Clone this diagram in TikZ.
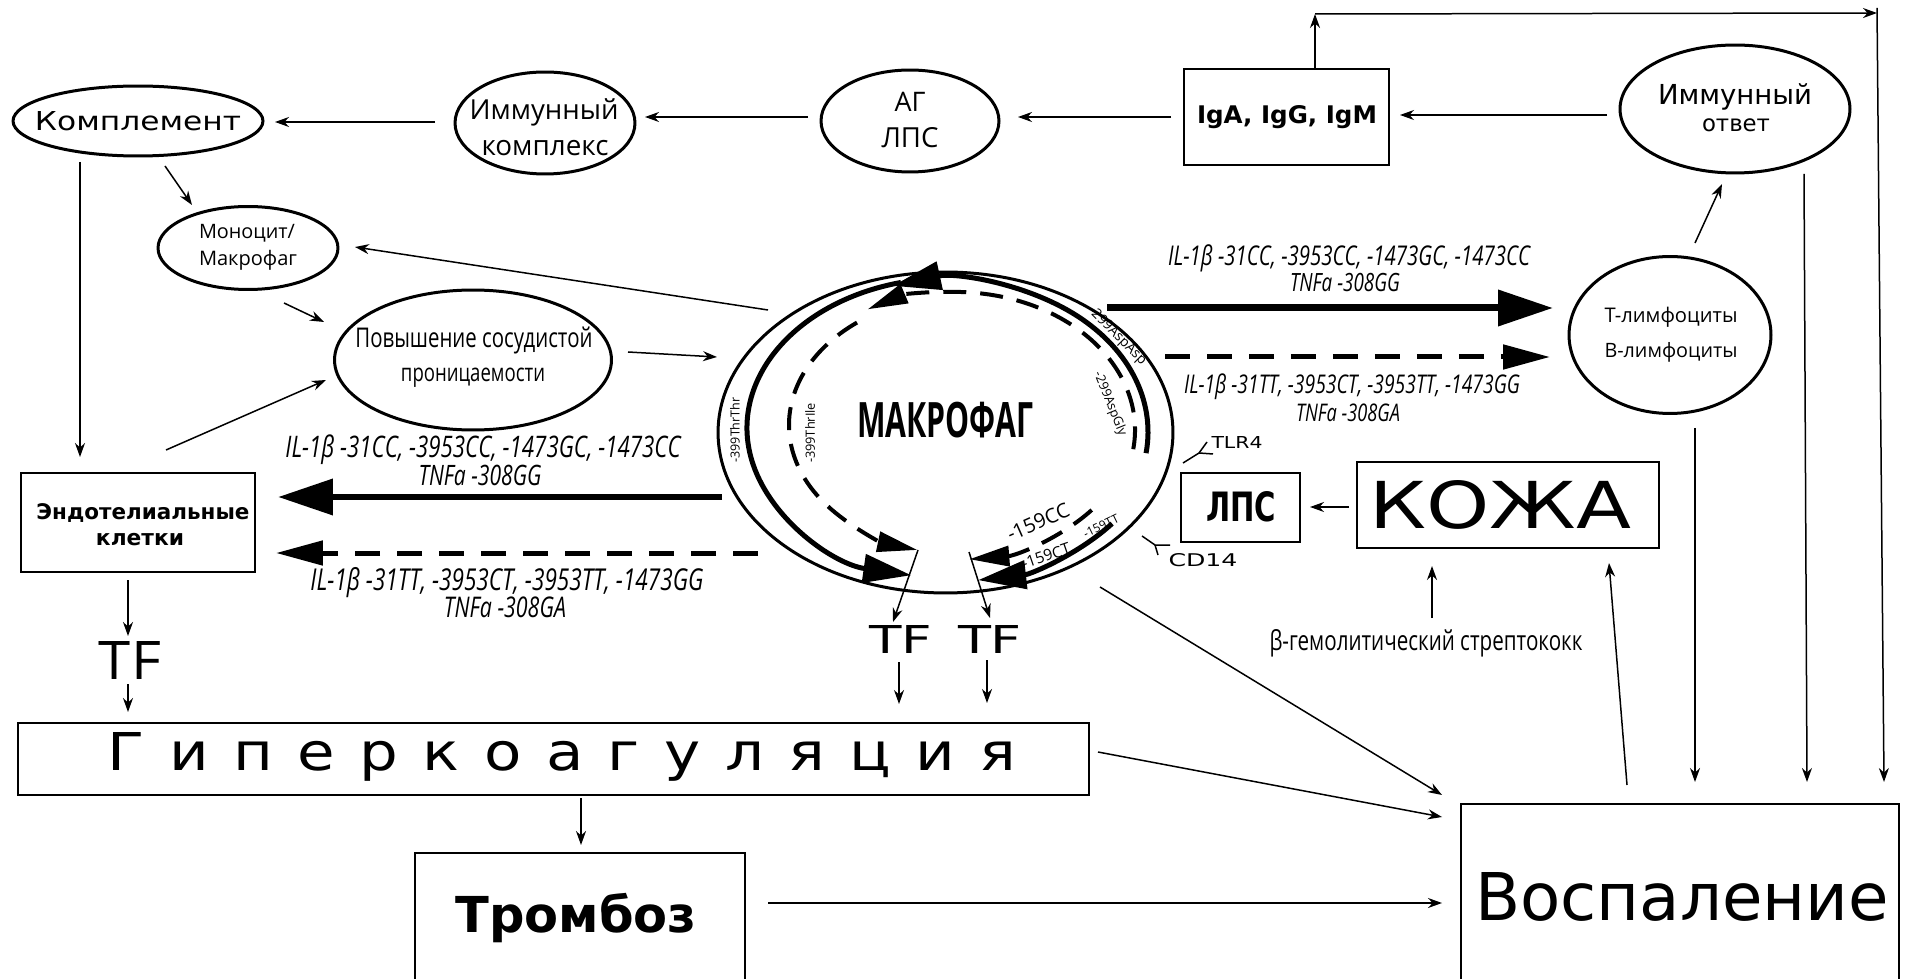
\documentclass[tikz,border=0pt]{standalone}
\usepackage{fontspec}
\usepackage{graphicx}
\setmainfont{Open Sans}
\newfontfamily\cnd[FakeStretch=0.75]{Open Sans}
\newfontfamily\cndb[FakeStretch=0.62]{Open Sans}
\newfontfamily\geo{DejaVu Sans}
\newfontfamily\geowide[LetterSpace=40]{DejaVu Sans}
\usetikzlibrary{shapes.geometric,arrows.meta}
\newlength\pxu
\setlength\pxu{0.02cm}
\newcommand\W[2]{\resizebox{#1\pxu}{!}{#2}}
\newcommand\WH[3]{\resizebox{#1\pxu}{#2\pxu}{#3}}
\tikzset{
  ell/.style={ellipse, draw, line width=0.06cm, inner sep=0pt},
  bx/.style={rectangle, draw, line width=0.05cm, inner sep=0pt},
  txt/.style={inner sep=0pt, outer sep=0pt},
  con/.style={line width=0.03cm, -{Stealth[length=0.28cm,width=0.2cm]}},
  bigS/.style={line width=0.14cm, -{Triangle[length=1.1cm,width=0.7cm]}},
  bigD/.style={line width=0.1cm, dash pattern=on 0.5cm off 0.34cm, -{Triangle[length=0.94cm,width=0.48cm]}},
  arcS/.style={line width=0.1cm, -{Triangle[length=0.96cm,width=0.56cm]}},
  arcD/.style={line width=0.08cm, dash pattern=on 0.46cm off 0.28cm, -{Triangle[length=0.8cm,width=0.4cm]}},
  thinl/.style={line width=0.03cm},
}
\begin{document}
\begin{tikzpicture}[x=0.02cm,y=-0.02cm]
\useasboundingbox (0,0) rectangle (1906,979);
\clip (0,0) rectangle (1906,979);

% ---------- nodes ----------
\node[ell, minimum width=5cm, minimum height=1.4cm] (kompl) at (138,121) {};
\node[txt] (komplT) at (138,121) {\WH{206}{19}{\geo Комплемент}};

\node[ell, minimum width=3.6cm, minimum height=2.04cm] (ik) at (545,123) {};
\node[txt] (ikT1) at (544,112) {\W{149}{Иммунный}};
\node[txt] (ikT2) at (545,148) {\W{127}{комплекс}};

\node[ell, minimum width=3.56cm, minimum height=2.04cm] (ag) at (910,121) {};
\node[txt] (agT1) at (910,102) {\W{31}{АГ}};
\node[txt] (agT2) at (910,138) {\W{57}{ЛПС}};

\node[bx, minimum width=4.1cm, minimum height=1.92cm] (iga) at (1286.5,117) {};
\node[txt] (igaT) at (1287,117) {\WH{180}{18}{\geo\bfseries IgA, IgG, IgM}};

\node[ell, minimum width=4.6cm, minimum height=2.56cm] (io) at (1735,109) {};
\node[txt] (ioT1) at (1735,97) {\W{154}{\geo Иммунный}};
\node[txt] (ioT2) at (1736,125) {\W{68}{\geo ответ}};

\node[ell, minimum width=3.6cm, minimum height=1.66cm] (mono) at (248,248) {};
\node[txt, anchor=west] (monoT1) at (199,233) {\W{96}{Моноцит/}};
\node[txt, anchor=west] (monoT2) at (199,260) {\W{98}{Макрофаг}};

\node[ell, minimum width=5.54cm, minimum height=2.8cm] (pov) at (473,360) {};
\node[txt] (povT1) at (474,340) {\W{237}{\cnd Повышение сосудистой}};
\node[txt] (povT2) at (473,378) {\W{144}{\cnd проницаемости}};

\node[ell, minimum width=9.1cm, minimum height=6.42cm] (macro) at (945.5,432.5) {};
\node[txt] (macroT) at (945,420) {\W{176}{\cndb\bfseries МАКРОФАГ}};

\node[ell, minimum width=4.04cm, minimum height=3.14cm] (tl) at (1670,335) {};
\node[txt] (tlT1) at (1671,317) {\W{133}{Т-лимфоциты}};
\node[txt] (tlT2) at (1671,352) {\W{133}{В-лимфоциты}};

\node[bx, minimum width=4.68cm, minimum height=1.98cm] (endo) at (138,522.5) {};
\node[txt] (endoT1) at (143,513) {\W{213}{\geo\bfseries Эндотелиальные}};
\node[txt] (endoT2) at (140,540) {\W{88}{\geo\bfseries клетки}};

\node[bx, minimum width=2.38cm, minimum height=1.38cm] (lps) at (1240.5,507.5) {};
\node[txt] (lpsT) at (1241,507) {\WH{70}{30}{\geo\bfseries ЛПС}};

\node[bx, minimum width=6.04cm, minimum height=1.72cm] (kozha) at (1508,505) {};
\node[txt] (kozhaT) at (1500,505) {\WH{262}{48}{\geo КОЖА}};

\node[txt] (tlr) at (1237,443) {\WH{51}{12}{\geo TLR4}};
\node[txt] (cd) at (1203,560) {\WH{69}{13}{\geo CD14}};

\node[txt] (beta) at (1426,643) {\W{313}{\cnd β-гемолитический стрептококк}};

\node[txt] (tf0) at (130,660) {\WH{62}{38}{TF}};
\node[txt] (tf1) at (901,639) {\WH{63}{28}{\geo TF}};
\node[txt] (tf2) at (990,639) {\WH{64}{28}{\geo TF}};

\node[bx, minimum width=21.42cm, minimum height=1.44cm] (giper) at (553.5,759) {};
\node[txt] (giperT) at (562,757) {\WH{909}{38}{\geowide Гиперкоагуляция}};

\node[bx, minimum width=6.6cm, minimum height=2.8cm] (tromb) at (580,923) {};
\node[txt] (trombT) at (576,918) {\W{241}{\geo\bfseries Тромбоз}};

\node[bx, minimum width=8.76cm, minimum height=3.72cm] (vosp) at (1680,897) {};
\node[txt] (vospT) at (1682,897) {\W{414}{\geo Воспаление}};

% ---------- genotype labels ----------
\node[txt] (ilR1) at (1349,258) {\W{362}{\cnd\itshape IL-1β -31CC, -3953CC, -1473GC, -1473CC}};
\node[txt] (ilR2) at (1345,283) {\W{110}{\cnd\itshape TNFa -308GG}};
\node[txt] (ilR3) at (1352,387) {\W{336}{\cnd\itshape IL-1β -31TT, -3953CT, -3953TT, -1473GG}};
\node[txt] (ilR4) at (1348,413) {\W{104}{\cnd\itshape TNFa -308GA}};
\node[txt] (ilL1) at (483,450) {\W{395}{\cnd\itshape IL-1β -31CC, -3953CC, -1473GC, -1473CC}};
\node[txt] (ilL2) at (480,475) {\W{123}{\cnd\itshape TNFa -308GG}};
\node[txt] (ilL3) at (507,583) {\W{393}{\cnd\itshape IL-1β -31TT, -3953CT, -3953TT, -1473GG}};
\node[txt] (ilL4) at (505,607) {\W{122}{\cnd\itshape TNFa -308GA}};

% ---------- macrophage inner arcs ----------
\coordinate (tc) at (950,428);
\coordinate (rc) at (948,432);
\coordinate (dc) at (966,425);
\coordinate (rd) at (955,430);
\coordinate (bc) at (945,430);
\coordinate (bd) at (950,420);
\draw[arcS] ([shift={(256:203 and 150)}]tc) arc[start angle=256, end angle=101, x radius=203, y radius=150];
\draw[arcS] ([shift={(8:200 and 152)}]rc) arc[start angle=8, end angle=-106, x radius=200, y radius=152];
\draw[arcD] ([shift={(232:177 and 130)}]dc) arc[start angle=232, end angle=106, x radius=177, y radius=130];
\draw[arcD] ([shift={(8:180 and 138)}]rd) arc[start angle=8, end angle=-119, x radius=180, y radius=138];
\draw[arcS] ([shift={(38:212 and 152)}]bc) arc[start angle=38, end angle=81, x radius=212, y radius=152];
\draw[arcD] ([shift={(40:185 and 140)}]bd) arc[start angle=40, end angle=84, x radius=185, y radius=140];

\node[txt, rotate=90] (g1) at (735,430) {\W{65}{-399ThrThr}};
\node[txt, rotate=90] (g2) at (810,433) {\W{60}{-399ThrIle}};
\node[txt, rotate=-45] (g3) at (1117,336) {\W{76}{-299AspAsp}};
\node[txt, rotate=-68] (g4) at (1110,404) {\W{68}{-299AspGly}};
\node[txt, rotate=24] (g5) at (1038,522) {\W{66}{-159CC}};
\node[txt, rotate=19] (g6) at (1046,556) {\W{50}{-159CT}};
\node[txt, rotate=26] (g7) at (1101,526) {\W{38}{-159TT}};

% receptors
\coordinate (tlrA) at (1183,463);
\coordinate (tlrB) at (1199,453);
\coordinate (tlrC) at (1207,442);
\coordinate (tlrD) at (1213,454);
\draw[thinl] (tlrA) -- (tlrB) -- (tlrC);
\draw[thinl] (tlrB) -- (tlrD);
\coordinate (cdA) at (1142,536);
\coordinate (cdB) at (1155,545);
\coordinate (cdC) at (1170,545);
\coordinate (cdD) at (1158,555);
\draw[thinl] (cdA) -- (cdB) -- (cdC);
\draw[thinl] (cdB) -- (cdD);

% ---------- big arrows ----------
\coordinate (bR1s) at (1107,308); \coordinate (bR1e) at (1553,308);
\coordinate (bR2s) at (1165,357); \coordinate (bR2e) at (1550,357);
\coordinate (bL1s) at (722,497);  \coordinate (bL1e) at (278,497);
\coordinate (bL2s) at (758,553);  \coordinate (bL2e) at (276,553);
\draw[bigS] (bR1s) -- (bR1e);
\draw[bigD] (bR2s) -- (bR2e);
\draw[bigS] (bL1s) -- (bL1e);
\draw[bigD] (bL2s) -- (bL2e);

% ---------- thin connectors ----------
\coordinate (c1s) at (435,122);  \coordinate (c1e) at (275,122);
\coordinate (c2s) at (808,117);  \coordinate (c2e) at (645,117);
\coordinate (c3s) at (1171,117); \coordinate (c3e) at (1018,117);
\coordinate (c4s) at (1607,115); \coordinate (c4e) at (1400,115);
\draw[con] (c1s) -- (c1e);
\draw[con] (c2s) -- (c2e);
\draw[con] (c3s) -- (c3e);
\draw[con] (c4s) -- (c4e);

\coordinate (upS) at (1315,68); \coordinate (upE) at (1315,14);
\coordinate (topR) at (1877,13);
\draw[con] (upS) -- (upE);
\draw[con] (upE) -- (topR);
\coordinate (rTop) at (1877,8); \coordinate (rBot) at (1884,782);
\draw[con] (rTop) -- (rBot);
\coordinate (ioS) at (1804,174); \coordinate (ioE) at (1807,782);
\draw[con] (ioS) -- (ioE);
\coordinate (tlS) at (1695,428); \coordinate (tlE) at (1695,782);
\draw[con] (tlS) -- (tlE);
\coordinate (tiS) at (1695,243); \coordinate (tiE) at (1722,184);
\draw[con] (tiS) -- (tiE);
\coordinate (vkS) at (1627,785); \coordinate (vkE) at (1609,563);
\draw[con] (vkS) -- (vkE);
\coordinate (bkS) at (1432,618); \coordinate (bkE) at (1432,566);
\draw[con] (bkS) -- (bkE);
\coordinate (klS) at (1349,507); \coordinate (klE) at (1310,507);
\draw[con] (klS) -- (klE);

\coordinate (mvS) at (1100,587); \coordinate (mvE) at (1442,795);
\draw[con] (mvS) -- (mvE);
\coordinate (gvS) at (1098,752); \coordinate (gvE) at (1442,817);
\draw[con] (gvS) -- (gvE);
\coordinate (tvS) at (768,903); \coordinate (tvE) at (1442,903);
\draw[con] (tvS) -- (tvE);
\coordinate (gtS) at (581,798); \coordinate (gtE) at (581,845);
\draw[con] (gtS) -- (gtE);

\coordinate (f1S) at (899,662); \coordinate (f1E) at (899,704);
\coordinate (f2S) at (987,660); \coordinate (f2E) at (987,703);
\draw[con] (f1S) -- (f1E);
\draw[con] (f2S) -- (f2E);
\coordinate (m1S) at (918,550); \coordinate (m1E) at (893,622);
\coordinate (m2S) at (969,552); \coordinate (m2E) at (990,618);
\draw[con] (m1S) -- (m1E);
\draw[con] (m2S) -- (m2E);

\coordinate (e1S) at (128,580); \coordinate (e1E) at (128,636);
\coordinate (e2S) at (128,684); \coordinate (e2E) at (128,712);
\draw[con] (e1S) -- (e1E);
\draw[con] (e2S) -- (e2E);
\coordinate (kdS) at (80,162); \coordinate (kdE) at (80,457);
\draw[con] (kdS) -- (kdE);
\coordinate (epS) at (166,450); \coordinate (epE) at (326,380);
\draw[con] (epS) -- (epE);
\coordinate (kmS) at (165,166); \coordinate (kmE) at (192,205);
\draw[con] (kmS) -- (kmE);
\coordinate (mpS) at (284,303); \coordinate (mpE) at (324,322);
\draw[con] (mpS) -- (mpE);
\coordinate (mmS) at (768,310); \coordinate (mmE) at (355,247);
\draw[con] (mmS) -- (mmE);
\coordinate (pmS) at (628,352); \coordinate (pmE) at (717,357);
\draw[con] (pmS) -- (pmE);
\end{tikzpicture}
\end{document}
